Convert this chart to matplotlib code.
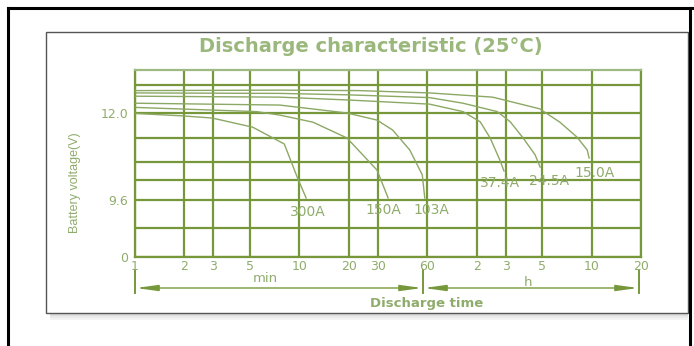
"""
Discharge characteristic (25 C) - battery voltage vs. discharge time,
one curve per constant discharge current, on a log time axis.
"""

import numpy as np
import matplotlib
matplotlib.use("Agg")
import matplotlib.pyplot as plt
from matplotlib.lines import Line2D
from matplotlib.patches import Rectangle

# ---- data (time in minutes, voltage in V) ----
CURRENTS = ["15.0A", "24.5A", "37.4A", "103A", "150A", "300A"]

T_15A = [1, 7.6, 23, 62, 150, 290, 385, 490, 565, 580]
V_15A = [12.48, 12.49, 12.48, 12.43, 12.34, 12.09, 11.78, 11.42, 11.10, 10.90]

T_24A = [1, 7.6, 19.5, 62, 99, 160, 192, 230, 272, 292]
V_24A = [12.43, 12.42, 12.39, 12.33, 12.21, 12.03, 11.79, 11.40, 10.98, 10.63]

T_37A = [1, 7.6, 19.5, 62, 99, 126, 145, 166, 176]
V_37A = [12.36, 12.34, 12.28, 12.19, 12.03, 11.79, 11.40, 10.85, 10.50]

T_103A = [1, 7.6, 19.5, 29.7, 37, 47, 56, 58]
V_103A = [12.21, 12.17, 12.00, 11.83, 11.59, 11.10, 10.37, 9.66]

T_150A = [1, 5.5, 7.6, 12.1, 19.5, 29.7, 34.7]
V_150A = [12.12, 12.03, 11.95, 11.78, 11.40, 10.53, 9.66]

T_300A = [1, 1.96, 2.94, 5.2, 8.1, 9.7, 11.0]
V_300A = [11.99, 11.93, 11.88, 11.66, 11.25, 10.30, 9.66]

# where each current label sits (time, voltage)
LABEL_T = [622, 331, 166, 64, 32.3, 11.3]
LABEL_V = [10.43, 10.17, 10.11, 7.89, 7.89, 7.54]

X_TICKS = [1, 2, 3, 5, 10, 20, 30, 60, 120, 180, 300, 600, 1200]
X_TICK_LABELS = ["1", "2", "3", "5", "10", "20", "30", "60", "2", "3", "5", "10", "20"]
Y_TICKS = [0, 9.6, 12.0]
Y_TICK_LABELS = ["0", "9.6", "12.0"]
Y_GRID_EXTRA = [4.8, 10.2, 10.8, 11.4, 12.6]

# ---- the chart's uneven voltage axis (voltage -> relative height) ----
AXIS_V = [0, 4.8, 9.6, 10.2, 10.8, 11.4, 12.0, 12.6, 13.2]
AXIS_H = [0, 29, 57, 77, 95, 119, 144, 172, 187]

# ---- style ----
W, H = 694, 346
GRID = "#76983a"
CURVE = "#8ba865"
TEXT = "#8fac6c"
TITLE = "#9bb87c"


def px(x, y):
    """image pixel (top-left origin) -> figure fraction."""
    return x / W, 1 - y / H


def fig_line(fig, x0, y0, x1, y1, **kw):
    (a, b), (c, d) = px(x0, y0), px(x1, y1)
    fig.add_artist(Line2D([a, c], [b, d], transform=fig.transFigure, **kw))


def fig_arrow(fig, x_from, x_to, y):
    fig.add_artist(matplotlib.patches.FancyArrowPatch(
        px(x_from, y), px(x_to, y), transform=fig.transFigure,
        arrowstyle="<|-|>,head_length=1.3,head_width=0.18",
        mutation_scale=10, color=GRID, lw=1.0, shrinkA=0, shrinkB=0))


def main():
    fig = plt.figure(figsize=(W / 100, H / 100), dpi=100)
    fig.patch.set_facecolor("white")

    # outer black frame (no bottom edge)
    fig_line(fig, 8, 8, 8, H, color="black", lw=2.2)
    fig_line(fig, 8, 8, W, 8, color="black", lw=2.2)
    fig_line(fig, 690, 8, 690, H, color="black", lw=2.2)

    # inner panel with soft shadow
    for i, a in enumerate([0.35, 0.25, 0.15, 0.08]):
        x0, y0 = px(50, 314 + 2 * i)
        fig.add_artist(Rectangle((x0, y0), 638 / W, 2 / H, transform=fig.transFigure,
                                 facecolor="#777777", edgecolor="none", alpha=a))
    x0, y0 = px(46, 313)
    fig.add_artist(Rectangle((x0, y0), 642 / W, 281 / H, transform=fig.transFigure,
                             facecolor="white", edgecolor="#555555", lw=1.0))

    l, t = px(135, 70)
    r, b = px(641, 257)
    ax = fig.add_axes([l, b, r - l, t - b])
    ax.set_zorder(3)
    ax.patch.set_alpha(0)

    ax.set_xscale("log")
    ax.set_yscale("function",
                  functions=(lambda v: np.interp(v, AXIS_V, AXIS_H),
                             lambda h: np.interp(h, AXIS_H, AXIS_V)))
    ax.set_xlim(1, 1200)
    ax.set_ylim(0, 13.2)

    series = [(T_15A, V_15A), (T_24A, V_24A), (T_37A, V_37A),
              (T_103A, V_103A), (T_150A, V_150A), (T_300A, V_300A)]
    for (tt, vv), name, lt, lv in zip(series, CURRENTS, LABEL_T, LABEL_V):
        ax.plot(tt, vv, color=CURVE, lw=1.0, zorder=3)
        ax.text(lt, lv, name, color=TEXT, fontsize=10, ha="center", va="center", zorder=4)

    ax.set_xticks(X_TICKS)
    ax.set_xticklabels(X_TICK_LABELS)
    ax.xaxis.set_minor_locator(matplotlib.ticker.NullLocator())
    ax.set_yticks(Y_TICKS)
    ax.set_yticklabels(Y_TICK_LABELS)
    ax.set_yticks(Y_GRID_EXTRA, minor=True)
    ax.tick_params(which="both", length=0, colors=TEXT, labelsize=9)
    ax.tick_params(axis="x", pad=2)
    ax.tick_params(axis="y", pad=5)
    ax.grid(True, which="both", color=GRID, lw=1.6, zorder=1)
    for name, sp in ax.spines.items():
        sp.set_color(GRID)
        sp.set_linewidth(1.6)
    ax.spines["top"].set_color("#9fb982")

    fig.text(*px(371, 47), "Discharge characteristic (25°C)", color=TITLE,
             fontsize=14, fontweight="bold", ha="center", va="center")
    fig.text(*px(75, 183), "Battery voltage(V)", color=TEXT, fontsize=9,
             rotation=90, ha="center", va="center", family="Liberation Sans")

    # min / h span arrows under the time axis
    for x in (135, 423, 639):
        fig_line(fig, x, 270, x, 293, color=GRID, lw=1.4)
    fig_arrow(fig, 136, 422, 288)
    fig_arrow(fig, 424, 638, 288)
    fig.text(*px(265, 279), "min", color=TEXT, fontsize=9.5, ha="center", va="center")
    fig.text(*px(528, 282), "h", color=TEXT, fontsize=9.5, ha="center", va="center")
    fig.text(*px(427, 304), "Discharge time", color=TEXT, fontsize=9.5,
             fontweight="bold", ha="center", va="center")

    fig.savefig("out.png", dpi=100)
    plt.close(fig)
    print("Saved out.png")


if __name__ == "__main__":
    main()
